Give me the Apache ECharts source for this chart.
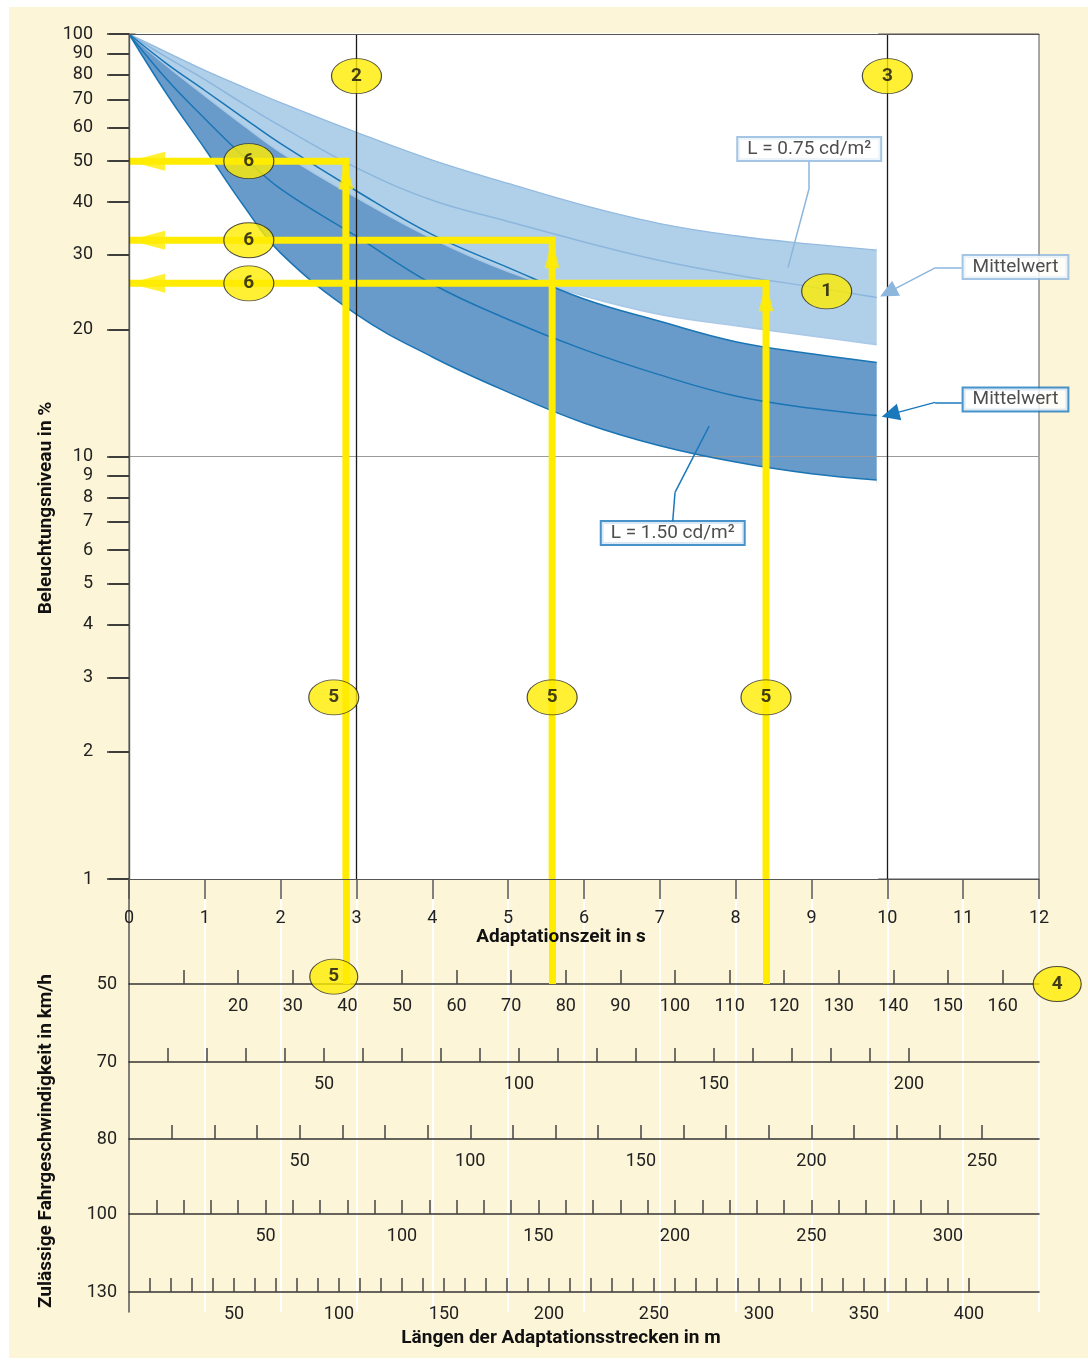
<!DOCTYPE html>
<html><head><meta charset="utf-8">
<script src="https://cdn.jsdelivr.net/npm/echarts@6/dist/echarts.min.js"></script>
<style>
html,body{margin:0;padding:0;background:#fff;}
#bg{position:absolute;left:9px;top:7px;width:1079px;height:1351px;background:#fdf5d8;}
#chart{position:absolute;left:0;top:0;width:1088px;height:1360px;}
</style></head><body><div id="bg"></div><div id="chart"></div>
<script>
// ---------------- data ----------------
const timeSec       = [0, 0.5, 1, 1.5, 2, 3, 4, 5, 6, 7, 8, 9, 9.86];
const light075Upper = [100, 90.5, 82, 75, 68.8, 58.5, 50.3, 44.3, 39.3, 35.6, 33.3, 31.8, 30.8];
const light075Mean  = [100, 88, 78, 68.5, 60.5, 48.2, 40.4, 36.0, 32.2, 29.1, 26.9, 25.2, 23.8];
const light075Lower = [100, 84, 71.5, 61, 52.5, 41, 32.8, 27.4, 24.0, 21.7, 20.4, 19.3, 18.4];
const dark150Upper  = [100, 85, 73.5, 63.5, 55, 42.5, 33.5, 28.0, 23.6, 20.9, 18.7, 17.5, 16.7];
const dark150Mean   = [100, 78, 63, 51.5, 43, 33.2, 25.6, 21.1, 17.9, 15.6, 13.9, 13.0, 12.5];
const dark150Lower  = [100, 72, 53.5, 39.5, 30.3, 21.7, 17.2, 14.2, 12.0, 10.6, 9.7, 9.1, 8.8];

const yTickValues = [1, 2, 3, 4, 5, 6, 7, 8, 9, 10, 20, 30, 40, 50, 60, 70, 80, 90, 100];

// nomogram: speeds (km/h), distance ticks (m) and labels (m)
const speeds       = [50, 70, 80, 100, 130];
const rowTickStep  = [10, 10, 12.5, 10, 10];
const rowTickLast  = [160, 200, 250, 300, 400];
const rowLabels50  = [20, 30, 40, 50, 60, 70, 80, 90, 100, 110, 120, 130, 140, 150, 160];
const rowLabels70  = [50, 100, 150, 200];
const rowLabels80  = [50, 100, 150, 200, 250];
const rowLabels100 = [50, 100, 150, 200, 250, 300];
const rowLabels130 = [50, 100, 150, 200, 250, 300, 350, 400];
const rowLabels = [rowLabels50, rowLabels70, rowLabels80, rowLabels100, rowLabels130];

// worked examples (yellow)
const yellowTime  = [2.86, 5.58, 8.40];
const yellowLevel = [50, 32.5, 25.7];

// ---------------- annotation anchors (data coords) ----------------
const badgeMain = [
  {name: '2', value: [3, 79.5]},
  {name: '3', value: [10, 79.5]},
  {name: '1', value: [9.2, 24.6]},
  {name: '6', value: [1.58, yellowLevel[0]]},
  {name: '6', value: [1.58, yellowLevel[1]]},
  {name: '6', value: [1.58, yellowLevel[2]]},
  {name: '5', value: [2.70, 2.69]},
  {name: '5', value: [yellowTime[1], 2.69]},
  {name: '5', value: [yellowTime[2], 2.69]}
];
const badgeLower = [
  {name: '5', value: [2.70, 0.07]},
  {name: '4', value: [12.24, 0]}
];

// ---------------- layout & style ----------------
const FONT = 'Roboto, "Noto Sans", sans-serif';
const TXT = '#222';
const AX = '#555';
const YEL = '#ffec00';
const LIGHT_FILL = '#b0d0ea', DARK_FILL = '#689bca';
const LIGHT_LINE = '#8db6dd', DARK_LINE = '#1a75b5';
const ELLIPSE = 'path://M0,50A50,50 0 1,1 100,50A50,50 0 1,1 0,50Z';
const rowLineY = [984, 1062, 1139, 1214, 1292];

const pts = arr => timeSec.map((t, i) => [t, arr[i]]);
const range = (step, last) => { const r = []; for (let v = step; v <= last + 1e-9; v += step) r.push(+v.toFixed(3)); return r; };

const SM = 0.4;

const grids = [
  {left: 129, right: 49, top: 34, bottom: 481, show: true, backgroundColor: '#fff', borderColor: AX, borderWidth: 1, outerBoundsMode: 'none', containLabel: false},
  {left: 129, right: 49, top: 879, bottom: 48, outerBoundsMode: 'none', containLabel: false},
  {left: 129, right: 49, top: 879, height: 105, outerBoundsMode: 'none', containLabel: false}
];
speeds.forEach((s, i) => grids.push({left: 129, right: 49, top: rowLineY[i] - 40, height: 40, outerBoundsMode: 'none', containLabel: false}));

const labelBase = {fontSize: 18, color: TXT, fontFamily: FONT};
const nameBase = {fontSize: 19, fontWeight: 'bold', color: '#111', fontFamily: FONT};

const xAxes = [
  // 0: main time axis
  {gridIndex: 0, type: 'value', min: 0, max: 12, interval: 1, position: 'bottom', z: 10,
   axisLine: {show: true, lineStyle: {color: AX, width: 1.2}},
   axisTick: {show: true, length: 20, lineStyle: {color: AX, width: 1.5}},
   axisLabel: Object.assign({margin: 30}, labelBase),
   splitLine: {show: false},
   name: 'Adaptationszeit in s', nameLocation: 'middle', nameGap: 49, nameMoveOverlap: false,
   nameTextStyle: Object.assign({padding: [0, 46, 0, 0]}, nameBase)},
  // 1: top frame line
  {gridIndex: 0, type: 'value', min: 0, max: 12, position: 'top', z: 10,
   axisLine: {show: true, lineStyle: {color: AX, width: 1.2}},
   axisTick: {show: false}, axisLabel: {show: false}, splitLine: {show: false}},
  // 2: white second-lines under the plot
  {gridIndex: 1, type: 'value', min: 0, max: 12, interval: 1,
   axisLine: {show: false}, axisTick: {show: false}, axisLabel: {show: false},
   splitLine: {show: true, showMinLine: false, lineStyle: {color: '#ffffff', width: 2}}},
  // 3: connector (seconds)
  {gridIndex: 2, type: 'value', min: 0, max: 12, show: false}
];
const yAxes = [
  // 0: main log axis, labels and detached ticks
  {gridIndex: 0, type: 'log', logBase: 10, min: 1, max: 100, position: 'left', offset: 11,
   axisLine: {show: false},
   axisTick: {show: true, length: 20, customValues: yTickValues, lineStyle: {color: '#333', width: 1.5}},
   axisLabel: Object.assign({margin: 25, customValues: yTickValues, formatter: v => String(Math.round(v))}, labelBase),
   splitLine: {show: false},
   name: 'Beleuchtungsniveau in %', nameLocation: 'middle', nameGap: 62, nameMoveOverlap: false,
   nameTextStyle: Object.assign({padding: [0, 103, 0, 0]}, nameBase)},
  // 1: right inside ticks
  {gridIndex: 0, type: 'log', logBase: 10, min: 1, max: 100, position: 'right', z: 10,
   axisLine: {show: true, lineStyle: {color: AX, width: 1.2}},
   axisTick: {show: true, inside: true, length: 22, customValues: yTickValues, lineStyle: {color: '#333', width: 1.5}},
   axisLabel: {show: false}, splitLine: {show: false}},
  // 2: left frame line
  {gridIndex: 0, type: 'log', logBase: 10, min: 1, max: 100, position: 'left', z: 10,
   axisLine: {show: true, lineStyle: {color: AX, width: 1.2}},
   axisTick: {show: false}, axisLabel: {show: false}, splitLine: {show: false}},
  // 3: lower area left line + name
  {gridIndex: 1, type: 'value', min: 0, max: 1, position: 'left',
   axisLine: {show: true, lineStyle: {color: AX, width: 1.5}},
   axisTick: {show: false}, axisLabel: {show: false}, splitLine: {show: false},
   name: 'Zulässige Fahrgeschwindigkeit in km/h', nameLocation: 'middle', nameGap: 73, nameMoveOverlap: false,
   nameTextStyle: Object.assign({padding: [0, 91, 0, 0]}, nameBase)},
  // 4: connector
  {gridIndex: 2, type: 'value', min: 0, max: 1, show: false}
];
speeds.forEach((s, i) => {
  const v = s / 3.6;
  const ax = {gridIndex: 3 + i, type: 'value', min: 0, max: 12 * v, position: 'bottom',
    axisLine: {show: true, lineStyle: {color: '#333', width: 1.5}},
    axisTick: {show: true, inside: true, length: 14, customValues: range(rowTickStep[i], rowTickLast[i]), lineStyle: {color: '#444', width: 1.5}},
    axisLabel: Object.assign({margin: 13, customValues: rowLabels[i], formatter: x => String(Math.round(x))}, labelBase),
    splitLine: {show: false}};
  if (i === speeds.length - 1) {
    Object.assign(ax, {name: 'Längen der Adaptationsstrecken in m', nameLocation: 'middle', nameGap: 37, nameMoveOverlap: false,
      nameTextStyle: Object.assign({padding: [0, 46, 0, 0]}, nameBase)});
  }
  xAxes.push(ax);
  yAxes.push({gridIndex: 3 + i, type: 'value', min: 0, max: 1,
    axisLine: {show: false}, axisTick: {show: false}, splitLine: {show: false},
    axisLabel: Object.assign({margin: 12, customValues: [0], formatter: () => String(s)}, labelBase)});
});

const series = [];
// band fills: area to bottom / top with white masks (keeps the light band over the dark one where they overlap)
function area(arr, color, origin, maskDy) {
  const st = {color, opacity: 1, origin};
  if (maskDy) Object.assign(st, {shadowColor: '#ffffff', shadowBlur: 0, shadowOffsetX: 1.5, shadowOffsetY: maskDy});
  return {type: 'line', data: pts(arr), smooth: SM, symbol: 'none',
    lineStyle: {opacity: 0}, areaStyle: st, silent: true, z: 2, xAxisIndex: 0, yAxisIndex: 0};
}
function curve(arr, color, width) {
  return {type: 'line', data: pts(arr), smooth: SM, symbol: 'none',
    lineStyle: {color, width}, silent: true, z: 3, xAxisIndex: 0, yAxisIndex: 0};
}
series.push(area(dark150Upper, DARK_FILL, 'start', 0));
series.push(area(dark150Lower, '#ffffff', 'start', 3));
series.push(area(light075Lower, LIGHT_FILL, 'end', 0));
series.push(area(light075Upper, '#ffffff', 'end', -3));
series.push(curve(light075Upper, '#93bae0', 1.3));
series.push(curve(light075Mean, LIGHT_LINE, 1.5));
series.push(curve(light075Lower, '#a9c9e7', 1.6));
series.push(curve(dark150Upper, DARK_LINE, 1.5));
series.push(curve(dark150Mean, DARK_LINE, 1.5));
series.push(curve(dark150Lower, DARK_LINE, 1.5));

// gridline at 10 % (above bands)
series.push({type: 'line', xAxisIndex: 0, yAxisIndex: 0, data: [[0, 100]], symbol: 'none', lineStyle: {opacity: 0}, silent: true, z: 3,
  markLine: {silent: true, symbol: 'none', label: {show: false}, z: 3, animation: false,
    data: [{yAxis: 10, lineStyle: {color: '#9a9a9a', width: 1.2, type: 'solid'}}]}});

// yellow worked examples
yellowTime.forEach((t, i) => {
  series.push({type: 'line', xAxisIndex: 0, yAxisIndex: 0, data: [[t, 1], [t, yellowLevel[i]], [0, yellowLevel[i]]],
    symbol: 'none', lineStyle: {color: YEL, width: 7, join: 'miter', cap: 'butt'}, silent: true, z: 5});
});
series.push({type: 'scatter', xAxisIndex: 0, yAxisIndex: 0, clip: false, silent: true, z: 5,
  symbol: 'triangle', itemStyle: {color: YEL},
  data: yellowTime.flatMap((t, i) => [
    {value: [t, yellowLevel[i]], symbolSize: [15, 28], symbolOffset: [0, 14], symbolRotate: 0},
    {value: [0, yellowLevel[i]], symbolSize: [19, 36], symbolOffset: [18, 0], symbolRotate: 90}
  ])});

// black reference lines at 3 s and 10 s
series.push({type: 'line', xAxisIndex: 0, yAxisIndex: 0, data: [[0, 100]], symbol: 'none', lineStyle: {opacity: 0}, silent: true, z: 6,
  markLine: {silent: true, symbol: 'none', label: {show: false}, z: 6, animation: false,
    data: [{xAxis: 3, lineStyle: {color: '#1a1a1a', width: 1.3, type: 'solid'}},
           {xAxis: 10, lineStyle: {color: '#1a1a1a', width: 1.3, type: 'solid'}}]}});

// connector of yellow lines down to the 50 km/h scale
series.push({type: 'scatter', xAxisIndex: 3, yAxisIndex: 4, clip: false, silent: true, z: 8,
  symbol: ELLIPSE, symbolSize: [48, 35],
  itemStyle: {color: YEL, borderColor: '#222', borderWidth: 1},
  label: {show: true, position: 'inside', formatter: '{b}', fontSize: 19, fontWeight: 'bold', color: '#111', fontFamily: FONT},
  data: badgeLower,
  markLine: {silent: true, symbol: 'none', label: {show: false}, z: 5, animation: false,
    lineStyle: {color: YEL, width: 7, type: 'solid'},
    data: yellowTime.map(t => [{coord: [t, 0]}, {coord: [t, 1]}])}});

// badges in main plot
series.push({type: 'scatter', xAxisIndex: 0, yAxisIndex: 0, clip: false, silent: true, z: 8,
  symbol: ELLIPSE, symbolSize: [50, 35],
  itemStyle: {color: YEL, borderColor: '#222', borderWidth: 1},
  label: {show: true, position: 'inside', formatter: '{b}', fontSize: 19, fontWeight: 'bold', color: '#111', fontFamily: FONT},
  data: badgeMain});

// callout boxes + leaders
function boxSeries(color, boxes, leaders) {
  return {type: 'scatter', xAxisIndex: 0, yAxisIndex: 0, clip: false, silent: true, z: 7,
    symbol: 'rect', symbolSize: 1, itemStyle: {color: 'rgba(0,0,0,0)'},
    label: {show: true, position: 'inside', formatter: '{b}', fontSize: 19, color: TXT, fontFamily: FONT,
      backgroundColor: '#fff', borderColor: color, borderWidth: 2, padding: [2, 9, 1, 9]},
    data: boxes,
    markLine: {silent: true, symbol: 'none', label: {show: false}, z: 6, animation: false,
      lineStyle: {color, width: 1.5, type: 'solid'}, data: leaders}};
}
series.push(boxSeries(LIGHT_LINE,
  [{name: 'L = 0.75 cd/m²', value: [8.97, 53.4]}, {name: 'Mittelwert', value: [11.69, 28.1]}],
  [[{coord: [8.97, 50.0]}, {coord: [8.97, 43.2]}],
   [{coord: [8.97, 43.2]}, {coord: [8.69, 28.0]}],
   [{coord: [10.98, 27.95]}, {coord: [10.63, 27.95]}],
   [{coord: [10.63, 27.95]}, {coord: [10.01, 24.45], symbol: 'triangle', symbolSize: [17, 18]}]]));
series.push(boxSeries('#1a78bd',
  [{name: 'L = 1.50 cd/m²', value: [7.17, 6.59]}, {name: 'Mittelwert', value: [11.69, 13.65]}],
  [[{coord: [7.17, 7.02]}, {coord: [7.20, 8.22]}],
   [{coord: [7.20, 8.22]}, {coord: [7.65, 11.8]}],
   [{coord: [10.98, 13.43]}, {coord: [10.63, 13.43]}],
   [{coord: [10.63, 13.43]}, {coord: [10.04, 12.58], symbol: 'triangle', symbolSize: [17, 18]}]]));

const chart = echarts.init(document.getElementById('chart'), null, {renderer: 'canvas', width: 1088, height: 1360});
chart.setOption({
  backgroundColor: 'transparent',
  animation: false,
  textStyle: {fontFamily: FONT},
  grid: grids,
  xAxis: xAxes,
  yAxis: yAxes,
  series
});
</script></body></html>
